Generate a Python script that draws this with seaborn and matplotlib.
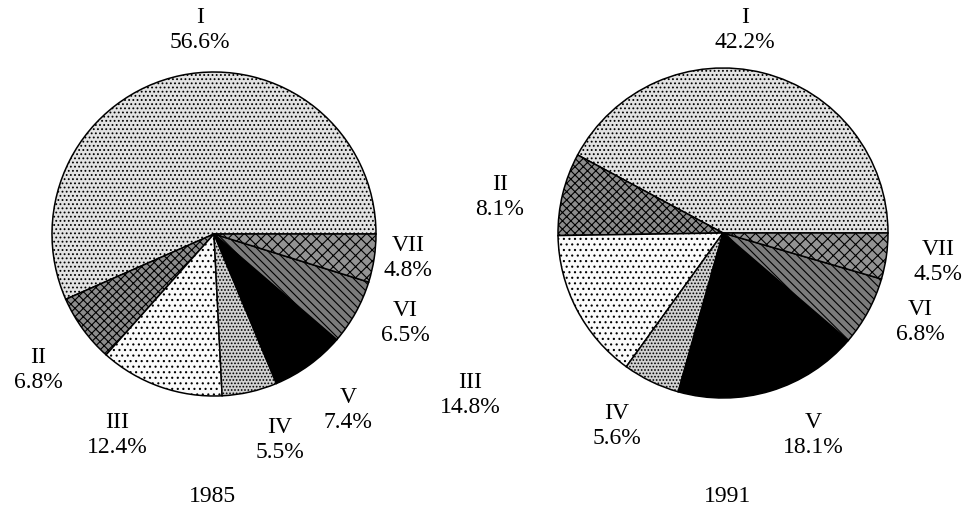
import matplotlib
matplotlib.use("Agg")
import matplotlib.pyplot as plt
import seaborn as sns

sns.set_theme(style="white")
plt.rcParams["font.family"] = ["Liberation Serif", "DejaVu Serif"]
plt.rcParams["hatch.linewidth"] = 0.8

# data
sectors = ["I", "II", "III", "IV", "V", "VI", "VII"]
share_1985 = [56.6, 6.8, 12.4, 5.5, 7.4, 6.5, 4.8]
share_1991 = [42.2, 8.1, 14.8, 5.6, 18.1, 6.8, 4.5]
years = ["1985", "1991"]

# grey tones / textures per sector (scanned print look)
faces = ["#e2e2e2", "#8c8c8c", "#fafafa", "#d2d2d2", "#000000", "#7c7c7c", "#939393"]
hatches = ["....", "xxxx", "...", ".....", None, "\\\\\\\\", "xxx"]

W, H = 973, 518
fig = plt.figure(figsize=(W / 100, H / 100), dpi=100)
ax = fig.add_axes([0, 0, 1, 1])

# pie centres / radii in pixels (y measured from top)
centres = [(214, 234), (723, 233)]
radii = [162, 165]

# label centres in pixels (y from top)
label_pos = [
    [(200, 30), (38, 370), (117, 435), (280, 440), (348, 410), (405, 323), (408, 258)],
    [(745, 30), (500, 197), (470, 395), (617, 426), (813, 435), (920, 322), (938, 262)],
]
year_pos = [(212, 497), (728, 497)]

for k, vals in enumerate([share_1985, share_1991]):
    cx, cy = centres[k]
    wedges, _ = ax.pie(vals, center=(cx, H - cy), radius=radii[k], startangle=0,
                       counterclock=True, frame=True,
                       wedgeprops=dict(edgecolor="black", linewidth=1.1))
    for w, fc, ht in zip(wedges, faces, hatches):
        w.set_facecolor(fc)
        if ht:
            w.set_hatch(ht)
    for name, v, (lx, ly) in zip(sectors, vals, label_pos[k]):
        ax.text(lx, H - ly, f"{name}\n{v:.1f}%", ha="center", va="center",
                fontsize=17, linespacing=1.3, color="black")
    ax.text(year_pos[k][0], H - year_pos[k][1], years[k], ha="center", va="center",
            fontsize=17, color="black")

ax.set_xlim(0, W)
ax.set_ylim(0, H)
ax.set_aspect("equal")
ax.axis("off")
fig.savefig("out.png", dpi=100)
